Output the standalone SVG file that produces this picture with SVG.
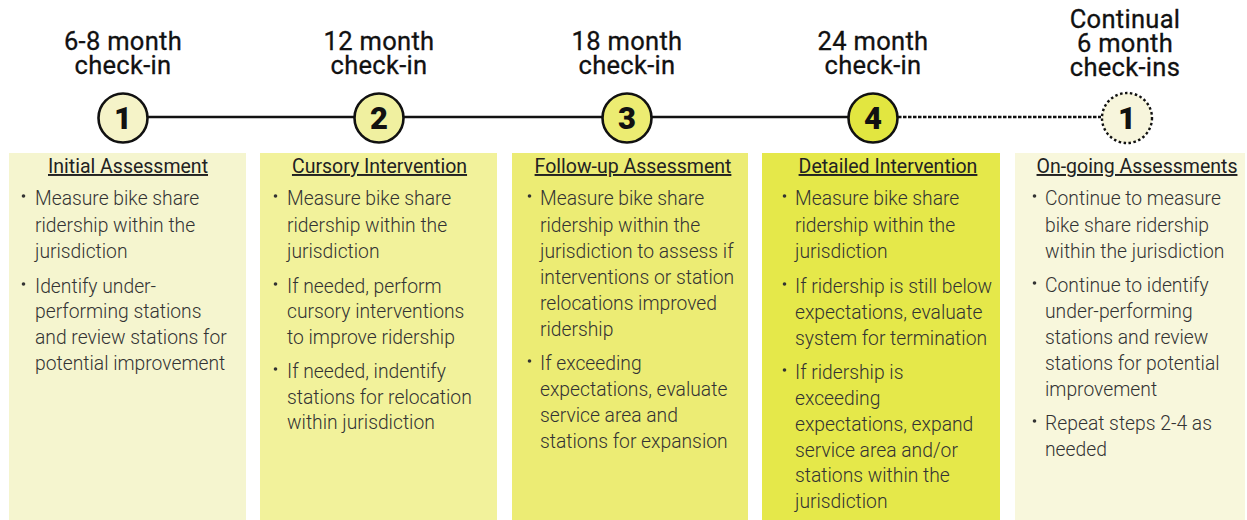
<svg xmlns="http://www.w3.org/2000/svg" width="1247" height="520" viewBox="0 0 1247 520">
<style>
.hdr{font-family:Roboto,"Liberation Sans",sans-serif;font-weight:400;font-size:25.5px;fill:#111;stroke:#111;stroke-width:0.3;text-anchor:middle;letter-spacing:0.3px}
.num{font-family:Roboto,"Liberation Sans",sans-serif;font-weight:900;font-size:31px;fill:#111;text-anchor:middle}
.ring{stroke:#111;stroke-width:2.6}
.ttl{font-family:Roboto,"Liberation Sans",sans-serif;font-size:19.5px;fill:#222;text-anchor:middle;text-decoration:underline}
.txt{font-family:Roboto,"Liberation Sans",sans-serif;font-weight:300;font-size:19.3px;fill:#333}
.dot{fill:#333}
</style>
<rect width="1247" height="520" fill="#ffffff"/>
<g id="connectors">
<line x1="148" y1="117" x2="848" y2="117" stroke="#111" stroke-width="2.6"/>
<line x1="898" y1="117" x2="1101" y2="117" stroke="#111" stroke-width="2.4" stroke-dasharray="3.5 1.5"/>
</g>
<g id="node1">
<text class="hdr" x="123" y="50">6-8 month</text>
<text class="hdr" x="123" y="74">check-in</text>
<circle class="ring" cx="123" cy="118" r="24.5" fill="#f5f3c8"/>
<text class="num" x="123" y="129">1</text>
<rect x="9" y="153" width="237" height="367" fill="#f5f5cf"/>
<text class="ttl" x="128" y="173">Initial Assessment</text>
<circle class="dot" cx="23.5" cy="196" r="1.8"/><circle class="dot" cx="23.5" cy="284" r="1.8"/>
<text class="txt" x="35"><tspan x="35" y="205">Measure bike share</tspan><tspan x="35" y="232">ridership within the</tspan><tspan x="35" y="258">jurisdiction</tspan><tspan x="35" y="293">Identify under-</tspan><tspan x="35" y="318">performing stations</tspan><tspan x="35" y="344">and review stations for</tspan><tspan x="35" y="370">potential improvement</tspan></text>
</g>
<g id="node2">
<text class="hdr" x="379" y="50">12 month</text>
<text class="hdr" x="379" y="74">check-in</text>
<circle class="ring" cx="379" cy="118" r="24.5" fill="#f0f0a0"/>
<text class="num" x="379" y="129">2</text>
<rect x="260" y="153" width="237" height="367" fill="#f2f29b"/>
<text class="ttl" x="379.5" y="173">Cursory Intervention</text>
<circle class="dot" cx="275.5" cy="196" r="1.8"/><circle class="dot" cx="275.5" cy="284" r="1.8"/><circle class="dot" cx="275.5" cy="369" r="1.8"/>
<text class="txt" x="287"><tspan x="287" y="205">Measure bike share</tspan><tspan x="287" y="232">ridership within the</tspan><tspan x="287" y="258">jurisdiction</tspan><tspan x="287" y="293">If needed, perform</tspan><tspan x="287" y="318">cursory interventions</tspan><tspan x="287" y="344">to improve ridership</tspan><tspan x="287" y="378">If needed, indentify</tspan><tspan x="287" y="404">stations for relocation</tspan><tspan x="287" y="429">within jurisdiction</tspan></text>
</g>
<g id="node3">
<text class="hdr" x="627" y="50">18 month</text>
<text class="hdr" x="627" y="74">check-in</text>
<circle class="ring" cx="627" cy="118" r="24.5" fill="#ecec72"/>
<text class="num" x="627" y="129">3</text>
<rect x="512" y="153" width="236" height="367" fill="#ecec74"/>
<text class="ttl" x="633" y="173">Follow-up Assessment</text>
<circle class="dot" cx="529.5" cy="196" r="1.8"/><circle class="dot" cx="529.5" cy="361" r="1.8"/>
<text class="txt" x="540"><tspan x="540" y="205">Measure bike share</tspan><tspan x="540" y="232">ridership within the</tspan><tspan x="540" y="258">jurisdiction to assess if</tspan><tspan x="540" y="284">interventions or station</tspan><tspan x="540" y="310">relocations improved</tspan><tspan x="540" y="336">ridership</tspan><tspan x="540" y="370">If exceeding</tspan><tspan x="540" y="396">expectations, evaluate</tspan><tspan x="540" y="422">service area and</tspan><tspan x="540" y="448">stations for expansion</tspan></text>
</g>
<g id="node4">
<text class="hdr" x="873" y="50">24 month</text>
<text class="hdr" x="873" y="74">check-in</text>
<circle class="ring" cx="873" cy="118" r="24.5" fill="#e2e640"/>
<text class="num" x="873" y="129">4</text>
<rect x="762" y="153" width="238" height="367" fill="#e5e84a"/>
<text class="ttl" x="888" y="173">Detailed Intervention</text>
<circle class="dot" cx="784.5" cy="196" r="1.8"/><circle class="dot" cx="784.5" cy="284" r="1.8"/><circle class="dot" cx="784.5" cy="370" r="1.8"/>
<text class="txt" x="795"><tspan x="795" y="205">Measure bike share</tspan><tspan x="795" y="232">ridership within the</tspan><tspan x="795" y="258">jurisdiction</tspan><tspan x="795" y="293">If ridership is still below</tspan><tspan x="795" y="319">expectations, evaluate</tspan><tspan x="795" y="345">system for termination</tspan><tspan x="795" y="379">If ridership is</tspan><tspan x="795" y="405">exceeding</tspan><tspan x="795" y="431">expectations, expand</tspan><tspan x="795" y="457">service area and/or</tspan><tspan x="795" y="482">stations within the</tspan><tspan x="795" y="508">jurisdiction</tspan></text>
</g>
<g id="node5">
<text class="hdr" x="1125" y="28">Continual</text>
<text class="hdr" x="1125" y="52">6 month</text>
<text class="hdr" x="1125" y="76">check-ins</text>
<circle cx="1127" cy="118" r="25" fill="#f7f5dc" stroke="#111" stroke-width="2.4" stroke-dasharray="2.5 2.5"/>
<text class="num" x="1127" y="129">1</text>
<rect x="1015" y="153" width="230" height="367" fill="#f8f7dc"/>
<text class="ttl" x="1137" y="173">On-going Assessments</text>
<circle class="dot" cx="1034.5" cy="196" r="1.8"/><circle class="dot" cx="1034.5" cy="283" r="1.8"/><circle class="dot" cx="1034.5" cy="421" r="1.8"/>
<text class="txt" x="1045"><tspan x="1045" y="205">Continue to measure</tspan><tspan x="1045" y="232">bike share ridership</tspan><tspan x="1045" y="258">within the jurisdiction</tspan><tspan x="1045" y="292">Continue to identify</tspan><tspan x="1045" y="318">under-performing</tspan><tspan x="1045" y="344">stations and review</tspan><tspan x="1045" y="370">stations for potential</tspan><tspan x="1045" y="396">improvement</tspan><tspan x="1045" y="430">Repeat steps 2-4 as</tspan><tspan x="1045" y="456">needed</tspan></text>
</g>
</svg>
